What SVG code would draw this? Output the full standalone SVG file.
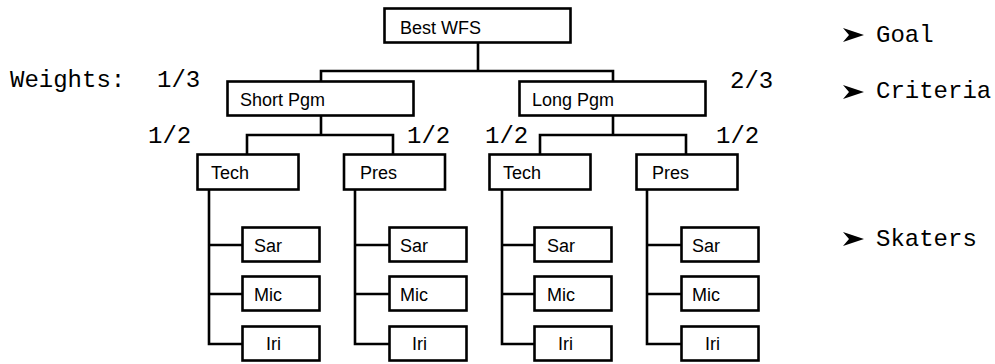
<svg xmlns="http://www.w3.org/2000/svg" width="995" height="364" viewBox="0 0 995 364">
<defs>
<style>
.box{fill:#fff;stroke:#000;stroke-width:2.6}
.lbl{font-family:"Liberation Sans",Arial,sans-serif;font-size:18px;fill:#000}
.mono{font-family:"Liberation Mono","Courier New",monospace;font-size:24px;fill:#000}
.con{fill:none;stroke:#000;stroke-width:2.6;stroke-linejoin:miter;stroke-linecap:square}
</style>
<path id="bul" d="M0,-7 L21,0 L0,7 L6,0 Z" fill="#000"/>
</defs>
<rect width="995" height="364" fill="#fff"/>
<g id="connectors">
<path class="con" d="M478,44 V71 M321,80 V71 H613 V80"/>
<path class="con" d="M321,117 V135 M247,153 V135 H393 V153"/>
<path class="con" d="M613,117 V135 M540,153 V135 H686 V153"/>
<path class="con" d="M209,191 V344 H241 M209,245 H241 M209,294 H241"/>
<path class="con" d="M355,191 V344 H388 M355,245 H388 M355,294 H388"/>
<path class="con" d="M502,191 V344 H533 M502,245 H533 M502,294 H533"/>
<path class="con" d="M647,191 V344 H680 M647,245 H680 M647,294 H680"/>
</g>
<g id="goal"><rect class="box" x="384.5" y="8.5" width="186" height="34"/><text class="lbl" x="400" y="34">Best WFS</text></g>
<g id="short"><rect class="box" x="227.5" y="81.5" width="186" height="34"/><text class="lbl" x="240" y="106">Short Pgm</text></g>
<g id="long"><rect class="box" x="519.5" y="81.5" width="186" height="34"/><text class="lbl" x="532" y="106">Long Pgm</text></g>
<g id="tech1"><rect class="box" x="197.5" y="154.5" width="101" height="35"/><text class="lbl" x="211" y="179">Tech</text></g>
<g id="pres1"><rect class="box" x="344" y="154.5" width="101" height="35"/><text class="lbl" x="360" y="179">Pres</text></g>
<g id="tech2"><rect class="box" x="489.5" y="154.5" width="101" height="35"/><text class="lbl" x="503" y="179">Tech</text></g>
<g id="pres2"><rect class="box" x="636.5" y="154.5" width="101" height="35"/><text class="lbl" x="652" y="179">Pres</text></g>
<g id="sar1"><rect class="box" x="242.5" y="227.5" width="77" height="34"/><text class="lbl" x="254" y="252">Sar</text></g>
<g id="mic1"><rect class="box" x="242.5" y="276.5" width="77" height="34"/><text class="lbl" x="254" y="301">Mic</text></g>
<g id="iri1"><rect class="box" x="242.5" y="326.5" width="77" height="34"/><text class="lbl" x="266" y="350">Iri</text></g>
<g id="sar2"><rect class="box" x="389.5" y="227.5" width="77" height="34"/><text class="lbl" x="400" y="252">Sar</text></g>
<g id="mic2"><rect class="box" x="389.5" y="276.5" width="77" height="34"/><text class="lbl" x="400" y="301">Mic</text></g>
<g id="iri2"><rect class="box" x="389.5" y="326.5" width="77" height="34"/><text class="lbl" x="412" y="350">Iri</text></g>
<g id="sar3"><rect class="box" x="534.5" y="227.5" width="77" height="34"/><text class="lbl" x="547" y="252">Sar</text></g>
<g id="mic3"><rect class="box" x="534.5" y="276.5" width="77" height="34"/><text class="lbl" x="547" y="301">Mic</text></g>
<g id="iri3"><rect class="box" x="534.5" y="326.5" width="77" height="34"/><text class="lbl" x="558" y="350">Iri</text></g>
<g id="sar4"><rect class="box" x="681.5" y="227.5" width="77" height="34"/><text class="lbl" x="692" y="252">Sar</text></g>
<g id="mic4"><rect class="box" x="681.5" y="276.5" width="77" height="34"/><text class="lbl" x="692" y="301">Mic</text></g>
<g id="iri4"><rect class="box" x="681.5" y="326.5" width="77" height="34"/><text class="lbl" x="705" y="350">Iri</text></g>
<g id="weights">
<text class="mono" x="10" y="87">Weights:</text>
<text class="mono" x="157" y="87">1/3</text>
<text class="mono" x="730" y="88">2/3</text>
<text class="mono" x="148" y="143">1/2</text>
<text class="mono" x="407" y="143">1/2</text>
<text class="mono" x="485" y="143">1/2</text>
<text class="mono" x="716" y="143">1/2</text>
</g>
<g id="legend">
<use href="#bul" x="843" y="35"/><text class="mono" x="876" y="42">Goal</text>
<use href="#bul" x="843" y="92"/><text class="mono" x="876" y="98">Criteria</text>
<use href="#bul" x="843" y="239"/><text class="mono" x="876" y="246">Skaters</text>
</g>
</svg>
